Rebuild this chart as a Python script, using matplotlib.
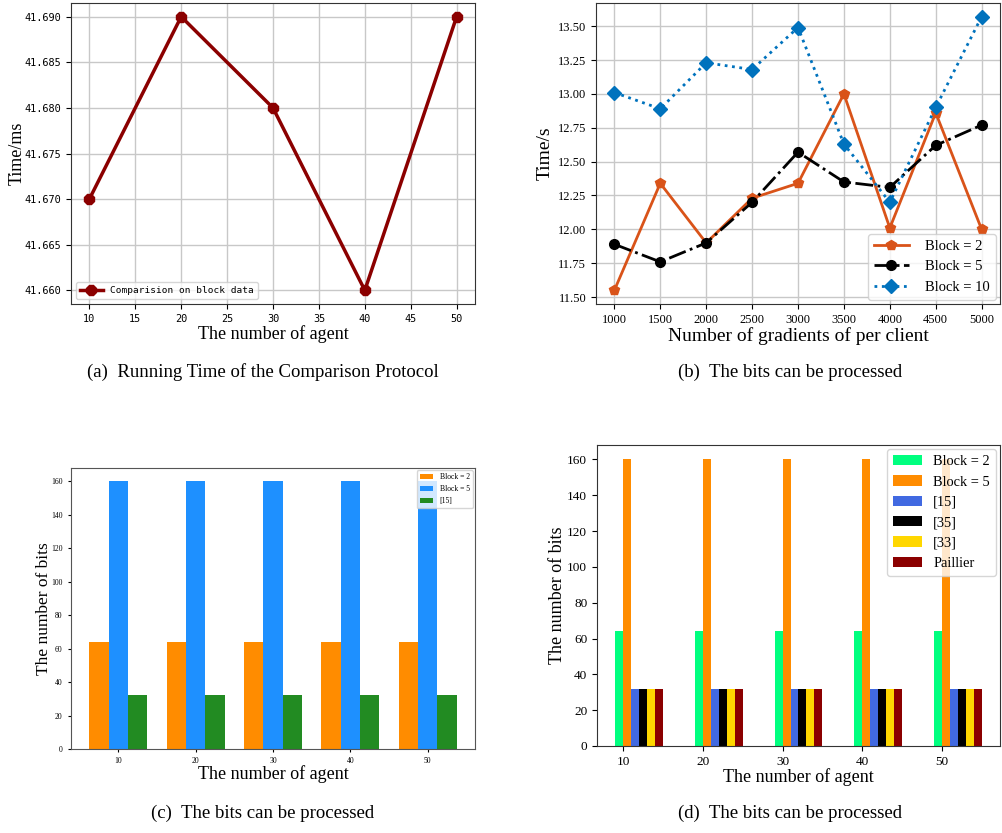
import matplotlib
matplotlib.use("Agg")
import matplotlib.pyplot as plt
import numpy as np

plt.rcParams['font.family'] = ['Liberation Serif', 'DejaVu Serif']
plt.rcParams['mathtext.fontset'] = 'stix'

# ---------------- data ----------------
agents_a = [10, 20, 30, 40, 50]
time_a = [41.670, 41.690, 41.680, 41.660, 41.690]

grads = [1000, 1500, 2000, 2500, 3000, 3500, 4000, 4500, 5000]
block2_b = [11.55, 12.34, 11.90, 12.23, 12.34, 13.00, 12.01, 12.86, 12.00]
block5_b = [11.89, 11.76, 11.90, 12.20, 12.57, 12.35, 12.31, 12.62, 12.77]
block10_b = [13.01, 12.89, 13.23, 13.18, 13.49, 12.63, 12.20, 12.90, 13.57]

agent_labels = ['10', '20', '30', '40', '50']
c_block2 = [64, 64, 64, 64, 64]
c_block5 = [160, 160, 160, 160, 160]
c_ref15 = [32, 32, 32, 32, 32]

d_block2 = [64, 64, 64, 64, 64]
d_block5 = [160, 160, 160, 160, 160]
d_ref15 = [32, 32, 32, 32, 32]
d_ref35 = [32, 32, 32, 32, 32]
d_ref33 = [32, 32, 32, 32, 32]
d_paillier = [32, 32, 32, 32, 32]

W, H = 1003, 833
fig = plt.figure(figsize=(W / 100, H / 100), dpi=100)


def add_ax(l, t, r, b):
    return fig.add_axes([l / W, 1 - b / H, (r - l) / W, (b - t) / H])


# ---------------- (a) ----------------
ax = add_ax(71, 3, 475, 304)
ax.plot(agents_a, time_a, color='#8B0000', lw=2.5, marker='8', ms=8,
        label='Comparision on block data')
ax.grid(True, color='#c8c8c8', lw=1)
ax.set_axisbelow(True)
ax.set_xticks([10, 15, 20, 25, 30, 35, 40, 45, 50])
yt_a = [41.660, 41.665, 41.670, 41.675, 41.680, 41.685, 41.690]
ax.set_yticks(yt_a)
ax.set_yticklabels(['%.3f' % v for v in yt_a])
for lbl in ax.get_xticklabels() + ax.get_yticklabels():
    lbl.set_family('DejaVu Sans Mono')
    lbl.set_fontsize(7.4)
ax.set_xlabel('The number of agent', fontsize=13, labelpad=1)
ax.set_ylabel('Time/ms', fontsize=13)
ax.yaxis.set_label_coords(-0.112, 0.5)
ax.legend(loc='lower left', prop={'family': 'DejaVu Sans Mono', 'size': 6.8},
          handlelength=2.4, borderpad=0.45)
for s in ax.spines.values():
    s.set_color('#333333')

# ---------------- (b) ----------------
ax = add_ax(596, 3, 1000, 304)
ax.plot(grads, block2_b, color='#D95319', lw=2, marker='p', ms=7, ls='-', label='Block = 2')
ax.plot(grads, block5_b, color='black', lw=2, marker='o', ms=7, ls='-.', label='Block = 5')
ax.plot(grads, block10_b, color='#0072BD', lw=2, marker='D', ms=7, ls=':', label='Block = 10')
ax.grid(True, color='#c8c8c8', lw=1)
ax.set_axisbelow(True)
ax.set_xticks(grads)
yt_b = [11.50, 11.75, 12.00, 12.25, 12.50, 12.75, 13.00, 13.25, 13.50]
ax.set_yticks(yt_b)
ax.set_yticklabels(['%.2f' % v for v in yt_b])
ax.tick_params(labelsize=9)
ax.set_xlabel('Number of gradients of per client', fontsize=14, labelpad=1)
ax.set_ylabel('Time/s', fontsize=14, labelpad=3)
ax.legend(loc='lower right', fontsize=10.5, handlelength=2.4, handletextpad=1.1,
          borderaxespad=0.3)
for s in ax.spines.values():
    s.set_color('#333333')

# ---------------- (c) ----------------
ax = add_ax(71, 468, 475, 749)
x = np.arange(len(agent_labels))
w = 0.25
ax.bar(x - w, c_block2, w, color='#FF8C00', label='Block = 2')
ax.bar(x, c_block5, w, color='#1E90FF', label='Block = 5')
ax.bar(x + w, c_ref15, w, color='#228B22', label='[15]')
ax.set_xticks(x)
ax.set_xticklabels(agent_labels)
ax.set_yticks([0, 20, 40, 60, 80, 100, 120, 140, 160])
ax.tick_params(labelsize=5.5, length=2.5)
ax.set_xlabel('The number of agent', fontsize=13, labelpad=0)
ax.set_ylabel('The number of bits', fontsize=12.5)
ax.yaxis.set_label_coords(-0.048, 0.5)
ax.legend(loc='upper right', fontsize=5.5, handlelength=1.8, borderaxespad=0.3)
for s in ax.spines.values():
    s.set_color('#555555')

# ---------------- (d) ----------------
ax = add_ax(597, 445, 1000, 746)
w = 0.1
series = [(d_block2, '#00FF7F', 'Block = 2'), (d_block5, '#FF8C00', 'Block = 5'),
          (d_ref15, '#4169E1', '[15]'), (d_ref35, 'black', '[35]'),
          (d_ref33, '#FFD700', '[33]'), (d_paillier, '#8B0000', 'Paillier')]
for i, (vals, col, lab) in enumerate(series):
    ax.bar(x + (i - 0.5) * w, vals, w, color=col, label=lab)
ax.set_xticks(x)
ax.set_xticklabels(agent_labels)
ax.set_yticks([0, 20, 40, 60, 80, 100, 120, 140, 160])
ax.tick_params(labelsize=9.5)
ax.set_xlabel('The number of agent', fontsize=13, labelpad=0)
ax.set_ylabel('The number of bits', fontsize=13)
ax.yaxis.set_label_coords(-0.077, 0.5)
ax.legend(loc='upper right', fontsize=10.4, handlelength=2.0, borderaxespad=0.3)
for s in ax.spines.values():
    s.set_color('#333333')

# ---------------- captions ----------------
cap = dict(ha='center', va='center', fontsize=13.5)
fig.text(263 / W, 1 - 372 / H, '(a)  Running Time of the Comparison Protocol', **cap)
fig.text(790 / W, 1 - 372 / H, '(b)  The bits can be processed', **cap)
fig.text(263 / W, 1 - 813 / H, '(c)  The bits can be processed', **cap)
fig.text(790 / W, 1 - 813 / H, '(d)  The bits can be processed', **cap)

fig.savefig('out.png', dpi=100)
